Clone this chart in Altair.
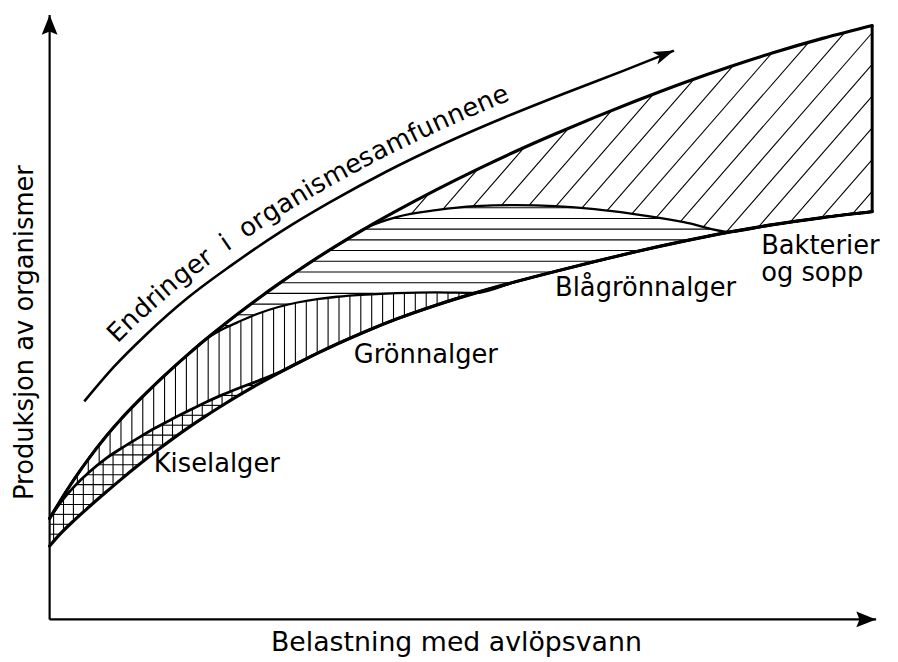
import math
import altair as alt
import numpy as np
import pandas as pd

# ---------------------------------------------------------------------------
# Data (schematic units, origin at the axes)
# ---------------------------------------------------------------------------
load = [0, 10, 25, 40, 57, 73, 90, 107, 123, 140, 157, 173, 190, 210, 230, 250,
        270, 290, 320, 350, 390, 430, 470, 510, 550, 590, 640, 687, 730, 780, 830]

# lower boundary of the hatched band
base_curve = [74, 85.5, 100.2, 113.7, 128.5, 142.1, 156.0, 169.4, 181.4, 193.5,
              204.9, 215.1, 225.5, 237.1, 248.1, 258.5, 268.5, 277.9, 291.1, 303.1,
              317.1, 329.5, 340.7, 351.1, 361.1, 370.7, 381.7, 391.1, 398.4, 405.4,
              411.4]
# cumulative upper boundaries of each organism group
kiselalger_top = [102, 116.5, 134.2, 148.7, 162.5, 173.1, 183.5, 193.4, 201.9, 210.5,
                  218.9, 226.1, 233.0, 240.6, 248.6, 258.5, 268.5, 277.9, 291.1,
                  303.1, 317.1, 329.5, 340.7, 351.1, 361.1, 370.7, 381.7, 391.1,
                  398.4, 405.4, 411.4]
gronnalger_top = [102, 118.5, 141.8, 163.0, 184.8, 203.2, 221.0, 237.7, 252.6, 267.7,
                  282.2, 292.0, 300.0, 308.5, 315.0, 319.8, 323.2, 325.6, 327.8,
                  329.2, 330.0, 329.5, 340.7, 351.1, 361.1, 370.7, 381.7, 391.1,
                  398.4, 405.4, 411.4]
blagronnalger_top = [102, 118.5, 141.8, 163.0, 184.8, 203.2, 221.0, 237.7, 252.6,
                     267.7, 282.2, 295.1, 308.4, 323.4, 337.8, 351.6, 364.8, 377.4,
                     395.4, 406.0, 413.0, 417.0, 418.0, 417.0, 414.0, 409.0, 401.0,
                     391.1, 398.4, 405.4, 411.4]
total_top = [102, 118.5, 141.8, 163.0, 184.8, 203.2, 221.0, 237.7, 252.6, 267.7,
             282.2, 295.1, 308.4, 323.4, 337.8, 351.6, 364.8, 377.4, 395.4, 412.2,
             433.4, 453.4, 472.2, 489.8, 506.6, 522.6, 541.6, 558.0, 571.8, 586.3,
             599.3]

# curved arrow "Endringer i organismesamfunnene"
arrow_x = [35, 65, 97, 140, 183, 233, 283, 340, 400, 460, 520, 580, 630]
arrow_y = [220, 255, 287, 325, 357, 391, 421, 452, 481, 507, 531, 554, 574]
arrow_text = "Endringer i organismesamfunnene"

axis_x_end = 834
axis_y_end = 610

x_title = "Belastning med avlöpsvann"
y_title = "Produksjon av organismer"

label_text = ["Kiselalger", "Grönnalger", "Blågrönnalger", "Bakterier", "og sopp"]
label_x = [105, 307, 510, 718, 718]
label_y = [149, 259, 326, 369, 341]

FONT = "DejaVu Sans"
FS = 26

X = np.array(load, float)


# ---------------------------------------------------------------------------
# Same monotone cubic as Vega's "monotone" line, used to clip the hatching
# ---------------------------------------------------------------------------
def _sgn(v):
    return -1.0 if v < 0 else 1.0


def monotone_eval(xk, yk, xq):
    xk = np.asarray(xk, float)
    yk = np.asarray(yk, float)
    h = np.diff(xk)
    s = np.diff(yk) / h
    n = len(xk)
    t = np.zeros(n)
    for i in range(1, n - 1):
        h0, h1, s0, s1 = h[i - 1], h[i], s[i - 1], s[i]
        p = (s0 * h1 + s1 * h0) / (h0 + h1)
        t[i] = (_sgn(s0) + _sgn(s1)) * min(abs(s0), abs(s1), 0.5 * abs(p))
    t[0] = (3 * s[0] - t[1]) / 2
    t[-1] = (3 * s[-1] - t[-2]) / 2
    xq = np.atleast_1d(np.asarray(xq, float))
    i = np.clip(np.searchsorted(xk, xq, side="right") - 1, 0, n - 2)
    hh = h[i]
    u = (xq - xk[i]) / hh
    h00 = 2 * u**3 - 3 * u**2 + 1
    h10 = u**3 - 2 * u**2 + u
    h01 = -2 * u**3 + 3 * u**2
    h11 = u**3 - u**2
    return h00 * yk[i] + h10 * hh * t[i] + h01 * yk[i + 1] + h11 * hh * t[i + 1]


XS = np.arange(X[0], X[-1] + 0.001, 0.25)


def hatch_lines(lower, upper, slope, intercepts):
    lo = monotone_eval(X, lower, XS)
    hi = monotone_eval(X, upper, XS)
    rows = []
    for c in intercepts:
        yy = slope * XS + c
        inside = (yy >= lo) & (yy <= hi) & (hi - lo > 1.0)
        idx = np.flatnonzero(inside)
        if idx.size == 0:
            continue
        br = np.flatnonzero(np.diff(idx) > 1)
        starts = np.r_[idx[0], idx[br + 1]]
        ends = np.r_[idx[br], idx[-1]]
        for s_, e_ in zip(starts, ends):
            if e_ - s_ < 3:
                continue
            rows.append(dict(x=XS[s_], y=slope * XS[s_] + c,
                             x2=XS[e_], y2=slope * XS[e_] + c))
    return rows


def hatch_vertical(lower, upper, positions):
    lo = monotone_eval(X, lower, positions)
    hi = monotone_eval(X, upper, positions)
    return [dict(x=xv, y=a, x2=xv, y2=b)
            for xv, a, b in zip(positions, lo, hi) if b - a > 1.0]


hatch = []
# Kiselalger: cross hatching
hatch += hatch_vertical(base_curve, kiselalger_top, np.arange(4, 240, 10.0))
hatch += hatch_lines(base_curve, kiselalger_top, 0.0, np.arange(76, 250, 10.0))
# Grönnalger: vertical hatching
hatch += hatch_vertical(kiselalger_top, gronnalger_top, np.arange(6, 440, 11.0))
# Blågrönnalger: horizontal hatching
hatch += hatch_lines(gronnalger_top, blagronnalger_top, 0.0,
                     np.arange(285.8, 425, 10.8))
# Bakterier og sopp: diagonal hatching
hatch += hatch_lines(blagronnalger_top, total_top, 1.15,
                     np.arange(-394.5 - 32 * 8, 260, 32.0))
hatch_df = pd.DataFrame(hatch)

outline_rows = []
for name, arr, w in [("base", base_curve, 3.2), ("kisel", kiselalger_top, 2.8),
                     ("gron", gronnalger_top, 2.3), ("bla", blagronnalger_top, 2.3),
                     ("top", total_top, 3.2)]:
    for xv, yv in zip(load, arr):
        outline_rows.append(dict(x=xv, y=yv, curve=name, w=w))
outline_df = pd.DataFrame(outline_rows)

edge_df = pd.DataFrame([dict(x=load[-1], y=base_curve[-1], y2=total_top[-1])])

axes_df = pd.DataFrame([dict(x=0, y=0, x2=axis_x_end, y2=0),
                        dict(x=0, y=0, x2=0, y2=axis_y_end)])
axes_head_df = pd.DataFrame([dict(x=axis_x_end, y=0, a=0),
                             dict(x=0, y=axis_y_end, a=270)])

arrow_df = pd.DataFrame(dict(x=arrow_x, y=arrow_y))
dxe = arrow_x[-1] - arrow_x[-2]
dye = arrow_y[-1] - arrow_y[-2]
arrow_head_df = pd.DataFrame([dict(x=arrow_x[-1], y=arrow_y[-1],
                                   a=(-math.degrees(math.atan2(dye, dxe))) % 360)])

# characters of the arrow caption, placed along the arrow
EM = {"E": .632, "n": .634, "d": .635, "r": .411, "i": .278, "g": .635, "e": .615,
      "o": .612, "a": .613, "s": .521, "m": .974, "f": .352, "u": .634}
ax_ = np.array(arrow_x, float)
ay_ = np.array(arrow_y, float)
cum = np.r_[0, np.cumsum(np.hypot(np.diff(ax_), np.diff(ay_)))]


def pos(s):
    return float(np.interp(s, cum, ax_)), float(np.interp(s, cum, ay_))


text_rows = []
s = 65.0
tracking = 0.0
offset = 14.0
for ch in arrow_text:
    w = (0.59 if ch == " " else EM.get(ch, 0.6)) * FS
    sc = s + w / 2
    px, py = pos(sc)
    p1 = pos(sc - 10)
    p2 = pos(sc + 10)
    tx, ty = p2[0] - p1[0], p2[1] - p1[1]
    nrm = math.hypot(tx, ty)
    tx, ty = tx / nrm, ty / nrm
    if ch != " ":
        text_rows.append(dict(x=px - ty * offset, y=py + tx * offset, ch=ch,
                              a=(-math.degrees(math.atan2(ty, tx))) % 360))
    s += w + tracking
arc_df = pd.DataFrame(text_rows)

label_df = pd.DataFrame(dict(x=label_x, y=label_y, t=label_text))

# ---------------------------------------------------------------------------
# Chart
# ---------------------------------------------------------------------------
xscale = alt.Scale(domain=[0, axis_x_end], nice=False, zero=False)
yscale = alt.Scale(domain=[0, axis_y_end], nice=False, zero=False)
xaxis = alt.Axis(title=x_title, labels=False, ticks=False, domain=False, grid=False,
                 titleFont=FONT, titleFontSize=27, titleFontWeight="normal",
                 titleColor="black", titlePadding=10, titleX=410)
yaxis = alt.Axis(title=y_title, labels=False, ticks=False, domain=False, grid=False,
                 titleFont=FONT, titleFontSize=26, titleFontWeight="normal",
                 titleColor="black", titlePadding=12, titleY=320)
XE = alt.X("x:Q", scale=xscale, axis=xaxis)
YE = alt.Y("y:Q", scale=yscale, axis=yaxis)

hatch_layer = alt.Chart(hatch_df).mark_rule(color="black", strokeWidth=1.1).encode(
    x=XE, y=YE, x2="x2:Q", y2="y2:Q")

outline_layer = alt.Chart(outline_df).mark_line(
    color="black", strokeJoin="round", strokeCap="round",
    interpolate="monotone").encode(
    x=XE, y=YE, detail="curve:N", strokeWidth=alt.StrokeWidth("w:Q", scale=None))

edge_layer = alt.Chart(edge_df).mark_rule(color="black", strokeWidth=3).encode(
    x=XE, y=YE, y2="y2:Q")

axes_layer = alt.Chart(axes_df).mark_rule(color="black", strokeWidth=2.2).encode(
    x=XE, y=YE, x2="x2:Q", y2="y2:Q")

axes_head_layer = alt.Chart(axes_head_df).mark_point(
    shape="M0,0L-2.5,-1L-2.1,0L-2.5,1Z", filled=True, color="black", opacity=1,
    size=256).encode(x=XE, y=YE, angle=alt.Angle("a:Q", scale=None))

arrow_layer = alt.Chart(arrow_df).mark_line(
    color="black", strokeWidth=2.6, interpolate="monotone").encode(x=XE, y=YE)

arrow_head_layer = alt.Chart(arrow_head_df).mark_point(
    shape="M0,0L-2.6,-0.85L-1.9,0L-2.6,0.85Z", filled=True, color="black",
    opacity=1, size=256).encode(x=XE, y=YE, angle=alt.Angle("a:Q", scale=None))

arc_text_layer = alt.Chart(arc_df).mark_text(
    font=FONT, fontSize=FS, align="center", baseline="alphabetic",
    color="black").encode(x=XE, y=YE, text="ch:N",
                          angle=alt.Angle("a:Q", scale=None))

label_layer = alt.Chart(label_df).mark_text(
    font=FONT, fontSize=FS, align="left", baseline="alphabetic",
    color="black").encode(x=XE, y=YE, text="t:N")

chart = alt.layer(
    hatch_layer, outline_layer, edge_layer, axes_layer, axes_head_layer,
    arrow_layer, arrow_head_layer, arc_text_layer, label_layer
).properties(
    width=834, height=610,
    autosize=alt.AutoSizeParams(type="none"),
    padding={"left": 42, "top": 4, "right": 14, "bottom": 40},
    background="white",
).configure_view(stroke=None)

chart.save("out.html", embed_options={"renderer": "svg", "actions": False})
